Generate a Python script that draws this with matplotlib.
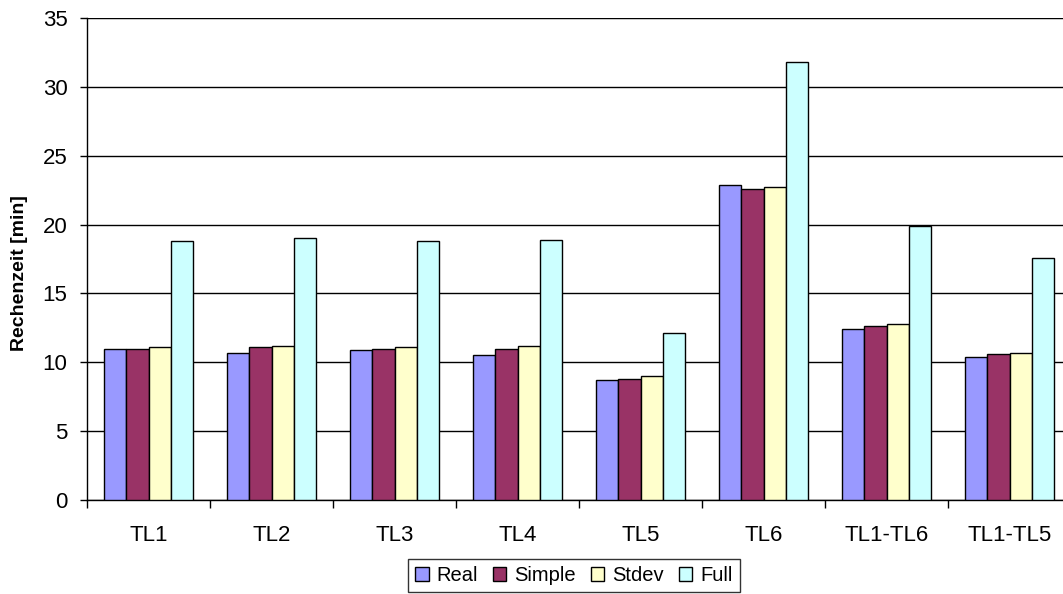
import numpy as np
import matplotlib.pyplot as plt
import matplotlib.ticker as ticker

plt.rcParams['font.family'] = ['Liberation Sans', 'DejaVu Sans']

# Daten
kategorien = ['TL1', 'TL2', 'TL3', 'TL4', 'TL5', 'TL6', 'TL1-TL6', 'TL1-TL5']
real = [11.0, 10.7, 10.9, 10.5, 8.7, 22.9, 12.4, 10.4]
simple = [11.0, 11.1, 11.0, 11.0, 8.8, 22.6, 12.6, 10.6]
stdev = [11.1, 11.2, 11.1, 11.2, 9.0, 22.7, 12.8, 10.7]
full = [18.8, 19.0, 18.8, 18.9, 12.1, 31.8, 19.9, 17.6]

serien = [('Real', real, '#9999FF'),
          ('Simple', simple, '#993366'),
          ('Stdev', stdev, '#FFFFCC'),
          ('Full', full, '#CCFFFF')]

fig = plt.figure(figsize=(10.63, 5.94), dpi=100)
ax = fig.add_axes([87/1063, 1 - 500/594, 984/1063, 482/594])

x = np.arange(len(kategorien))
w = 1 / 5.5
for i, (name, werte, farbe) in enumerate(serien):
    ax.bar(x + (i - 1.5) * w, werte, width=w, color=farbe,
           edgecolor='black', linewidth=1, label=name, zorder=3)

ax.set_xlim(-0.5, len(kategorien) - 0.5)
ax.set_ylim(0, 35)

# Gitterlinien
ax.yaxis.set_major_locator(ticker.MultipleLocator(5))
ax.grid(axis='y', color='black', linewidth=1, zorder=0)
ax.axhline(35, color='#808080', linewidth=1.5, zorder=1)

for s in ['top', 'right']:
    ax.spines[s].set_visible(False)
for s in ['left', 'bottom']:
    ax.spines[s].set_color('black')
    ax.spines[s].set_linewidth(1)

ax.tick_params(axis='y', direction='out', length=5, width=1,
               labelsize=16, pad=9)

# Kategorien mittig, Striche an den Grenzen
ax.set_xticks(np.arange(-0.5, len(kategorien)), [''] * (len(kategorien) + 1))
ax.set_xticks(x, kategorien, minor=True)
ax.tick_params(axis='x', which='major', direction='out', length=6, width=1)
ax.tick_params(axis='x', which='minor', length=0, labelsize=16, pad=18)

fig.text(20/1063, 1 - 273/594, 'Rechenzeit [min]', rotation=90,
         ha='center', va='center', fontsize=14, fontweight='bold')

leg = fig.legend(loc='upper center', bbox_to_anchor=(574/1063, 1 - 559/594),
                 ncol=4, fontsize=14.5, frameon=True, fancybox=False,
                 handlelength=0.65, handleheight=0.65, handletextpad=0.4,
                 columnspacing=0.75, borderpad=0.35, borderaxespad=0)
leg.get_frame().set_edgecolor('black')
leg.get_frame().set_linewidth(1)

fig.savefig('out.png', dpi=100)
